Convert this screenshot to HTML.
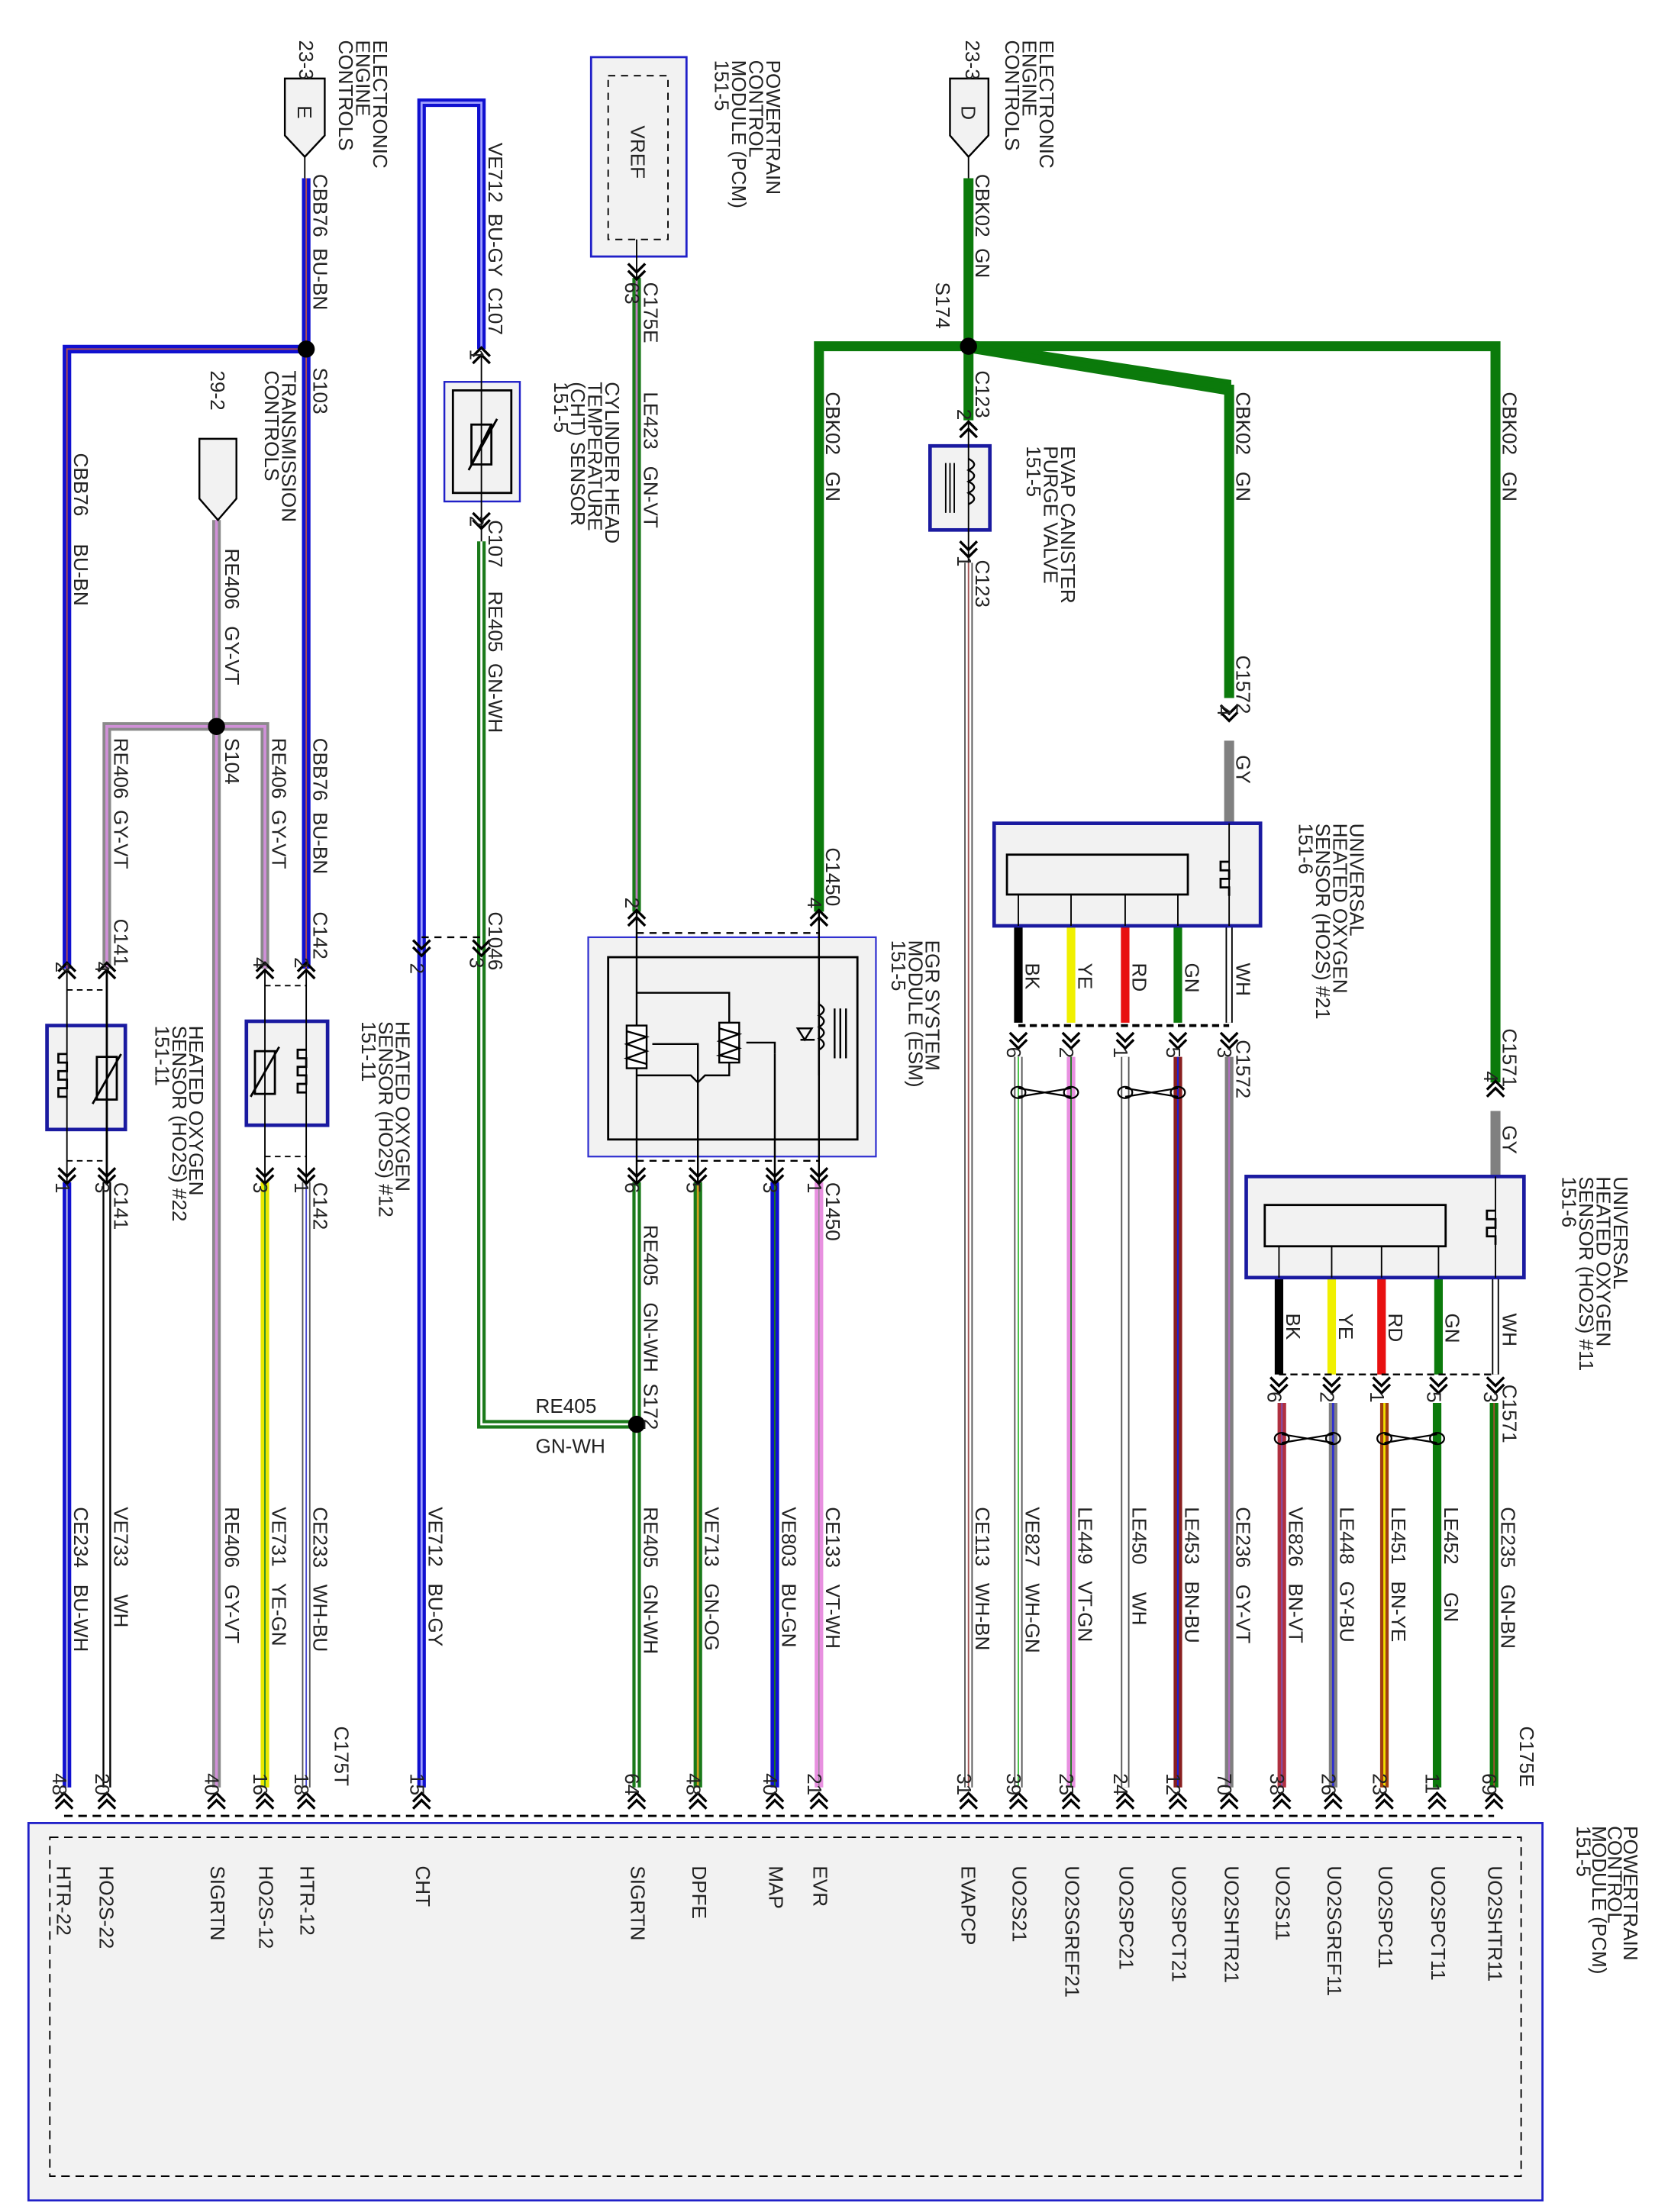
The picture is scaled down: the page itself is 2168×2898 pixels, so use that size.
<!DOCTYPE html>
<html><head><meta charset="utf-8"><style>
html,body{margin:0;padding:0;background:#fff}
svg{display:block}
text{font-family:"Liberation Sans",sans-serif;font-size:14px;fill:#222}
</style></head><body>
<svg width="2168" height="2898" viewBox="0 0 1162 1553" xmlns="http://www.w3.org/2000/svg">
<defs>
<g id="cd"><path d="M-6,-5 L0,1 L6,-5 M-6,0 L0,6 L6,0" fill="none" stroke="#000" stroke-width="1.8"/></g>
<g id="cu"><path d="M-6,5 L0,-1 L6,5 M-6,0 L0,-6 L6,0" fill="none" stroke="#000" stroke-width="1.8"/></g>
</defs>
<rect width="1162" height="1553" fill="#fff"/>

<rect x="20" y="1280" width="1063" height="265" fill="#f2f2f2" stroke="#2020c8" stroke-width="1.5"/>
<rect x="35" y="1290" width="1033" height="238" fill="none" stroke="#000" stroke-dasharray="6,4"/>
<line x1="45" y1="1275" x2="1049" y2="1275" stroke="#000" stroke-dasharray="6,4" stroke-width="1.5"/>
<g transform="translate(1140,1282) rotate(90)"><text>POWERTRAIN</text><text y="11">CONTROL</text><text y="22">MODULE (PCM)</text><text y="33">151-5</text></g>

<g fill="none" stroke-linejoin="miter">
<path d="M47,680 V245 H215 M215,125 V680" stroke="#1010d0" stroke-width="6"/>
<path d="M47,680 V245 H215 M215,125 V680" stroke="#b05050" stroke-width="1"/>
<path d="M75,680 V510 H186 V680 M152,365 V1255" stroke="#8a8a8a" stroke-width="6"/>
<path d="M75,680 V510 H186 V680 M152,365 V1255" stroke="#d090d8" stroke-width="2"/>
<line x1="47" y1="830" x2="47" y2="1255" stroke="#1010d0" stroke-width="6"/>
<line x1="47" y1="830" x2="47" y2="1255" stroke="#ccd" stroke-width="1"/>
<line x1="75" y1="830" x2="75" y2="1255" stroke="#000" stroke-width="6"/>
<line x1="75" y1="830" x2="75" y2="1255" stroke="#fff" stroke-width="3.5"/>
<line x1="186" y1="830" x2="186" y2="1255" stroke="#e8e800" stroke-width="6"/>
<line x1="186" y1="830" x2="186" y2="1255" stroke="#2a8a2a" stroke-width="1"/>
<line x1="215" y1="830" x2="215" y2="1255" stroke="#555" stroke-width="6"/>
<line x1="215" y1="830" x2="215" y2="1255" stroke="#fff" stroke-width="4"/>
<line x1="215" y1="830" x2="215" y2="1255" stroke="#4a4ad0" stroke-width="1"/>
<path d="M296,1255 V72 H338 V245" stroke="#1010d0" stroke-width="6"/>
<path d="M296,1255 V72 H338 V245" stroke="#a0a0ff" stroke-width="1.5"/>
<path d="M338,380 V1000 H447" stroke="#1a7a1a" stroke-width="6"/>
<path d="M338,380 V1000 H447" stroke="#fff" stroke-width="1.5"/>
<line x1="447" y1="195" x2="447" y2="640" stroke="#1a7a1a" stroke-width="6"/>
<line x1="447" y1="195" x2="447" y2="640" stroke="#c080c0" stroke-width="1.5"/>
<path d="M575,640 V243 H1050 V760" stroke="#0b7a0b" stroke-width="7"/>
<line x1="680" y1="125" x2="680" y2="295" stroke="#0b7a0b" stroke-width="7"/>
<polygon points="680,240 863,268 863,276 680,246" fill="#0b7a0b" stroke="#0b7a0b" stroke-width="3"/>
<line x1="863" y1="270" x2="863" y2="490" stroke="#0b7a0b" stroke-width="7"/>
<line x1="863" y1="520" x2="863" y2="578" stroke="#808080" stroke-width="7"/>
<line x1="1050" y1="780" x2="1050" y2="826" stroke="#808080" stroke-width="7"/>
<line x1="447" y1="830" x2="447" y2="1255" stroke="#1a7a1a" stroke-width="6"/>
<line x1="447" y1="830" x2="447" y2="1255" stroke="#fff" stroke-width="1.5"/>
<line x1="490" y1="830" x2="490" y2="1255" stroke="#1a7a1a" stroke-width="6"/>
<line x1="490" y1="830" x2="490" y2="1255" stroke="#d0a020" stroke-width="1.5"/>
<line x1="544" y1="830" x2="544" y2="1255" stroke="#1010d0" stroke-width="6"/>
<line x1="544" y1="830" x2="544" y2="1255" stroke="#1a7a1a" stroke-width="1"/>
<line x1="575" y1="830" x2="575" y2="1255" stroke="#e890e0" stroke-width="6"/>
<line x1="575" y1="830" x2="575" y2="1255" stroke="#888" stroke-width="0.7"/>
<line x1="680" y1="395" x2="680" y2="1255" stroke="#555" stroke-width="6"/>
<line x1="680" y1="395" x2="680" y2="1255" stroke="#fff" stroke-width="4"/>
<line x1="680" y1="395" x2="680" y2="1255" stroke="#a05050" stroke-width="1"/>
<line x1="715" y1="650" x2="715" y2="718" stroke="#000" stroke-width="6"/>
<line x1="752" y1="650" x2="752" y2="718" stroke="#f0f000" stroke-width="6"/>
<line x1="790" y1="650" x2="790" y2="718" stroke="#e81010" stroke-width="6"/>
<line x1="827" y1="650" x2="827" y2="718" stroke="#0b7a0b" stroke-width="6"/>
<line x1="863" y1="650" x2="863" y2="718" stroke="#000" stroke-width="5"/>
<line x1="863" y1="650" x2="863" y2="718" stroke="#fff" stroke-width="3"/>
<line x1="715" y1="742" x2="715" y2="1255" stroke="#555" stroke-width="6"/>
<line x1="715" y1="742" x2="715" y2="1255" stroke="#fff" stroke-width="4"/>
<line x1="715" y1="742" x2="715" y2="1255" stroke="#40c040" stroke-width="1"/>
<line x1="752" y1="742" x2="752" y2="1255" stroke="#e890e0" stroke-width="6"/>
<line x1="752" y1="742" x2="752" y2="1255" stroke="#1a7a1a" stroke-width="1"/>
<line x1="790" y1="742" x2="790" y2="1255" stroke="#555" stroke-width="6"/>
<line x1="790" y1="742" x2="790" y2="1255" stroke="#fff" stroke-width="4"/>
<line x1="827" y1="742" x2="827" y2="1255" stroke="#8a2020" stroke-width="6"/>
<line x1="827" y1="742" x2="827" y2="1255" stroke="#2020d0" stroke-width="1.2"/>
<line x1="863" y1="742" x2="863" y2="1255" stroke="#808080" stroke-width="6"/>
<line x1="863" y1="742" x2="863" y2="1255" stroke="#b070c0" stroke-width="1.2"/>
<line x1="898" y1="897" x2="898" y2="965" stroke="#000" stroke-width="6"/>
<line x1="935" y1="897" x2="935" y2="965" stroke="#f0f000" stroke-width="6"/>
<line x1="970" y1="897" x2="970" y2="965" stroke="#e81010" stroke-width="6"/>
<line x1="1010" y1="897" x2="1010" y2="965" stroke="#0b7a0b" stroke-width="6"/>
<line x1="1050" y1="897" x2="1050" y2="965" stroke="#000" stroke-width="5"/>
<line x1="1050" y1="897" x2="1050" y2="965" stroke="#fff" stroke-width="3"/>
<line x1="900" y1="985" x2="900" y2="1255" stroke="#b03040" stroke-width="6"/>
<line x1="900" y1="985" x2="900" y2="1255" stroke="#8050b0" stroke-width="1"/>
<line x1="936" y1="985" x2="936" y2="1255" stroke="#808080" stroke-width="6"/>
<line x1="936" y1="985" x2="936" y2="1255" stroke="#3030d0" stroke-width="1.5"/>
<line x1="972" y1="985" x2="972" y2="1255" stroke="#a04010" stroke-width="6"/>
<line x1="972" y1="985" x2="972" y2="1255" stroke="#f0e000" stroke-width="1.5"/>
<line x1="1009" y1="985" x2="1009" y2="1255" stroke="#0b7a0b" stroke-width="6"/>
<line x1="1049" y1="985" x2="1049" y2="1255" stroke="#0b7a0b" stroke-width="6"/>
<line x1="1049" y1="985" x2="1049" y2="1255" stroke="#a05030" stroke-width="1"/>
</g>

<g fill="none" stroke="#000" stroke-width="1.2">
<ellipse cx="715" cy="767" rx="5" ry="4"/><ellipse cx="752" cy="767" rx="5" ry="4"/><path d="M715,764 L752,770 M715,770 L752,764"/>
<ellipse cx="790" cy="767" rx="5" ry="4"/><ellipse cx="827" cy="767" rx="5" ry="4"/><path d="M790,764 L827,770 M790,770 L827,764"/>
<ellipse cx="900" cy="1010" rx="5" ry="4"/><ellipse cx="936" cy="1010" rx="5" ry="4"/><path d="M900,1007 L936,1013 M900,1013 L936,1007"/>
<ellipse cx="972" cy="1010" rx="5" ry="4"/><ellipse cx="1009" cy="1010" rx="5" ry="4"/><path d="M972,1007 L1009,1013 M972,1013 L1009,1007"/>
</g>

<path d="M200,55 H228 V95 L214,110 L200,95 Z" fill="#f2f2f2" stroke="#000" stroke-width="1.3"/>
<line x1="214" y1="110" x2="214" y2="125" stroke="#000"/>
<text transform="translate(209,74) rotate(90)" font-size="14">E</text>
<path d="M667,55 H694 V95 L680,110 L667,95 Z" fill="#f2f2f2" stroke="#000" stroke-width="1.3"/>
<line x1="680" y1="110" x2="680" y2="125" stroke="#000"/>
<text transform="translate(675,74) rotate(90)" font-size="14">D</text>
<path d="M140,308 H166 V350 L153,365 L140,350 Z" fill="#f2f2f2" stroke="#000" stroke-width="1.3"/>

<g fill="#000"><circle cx="215" cy="245" r="6"/><circle cx="152" cy="510" r="6"/><circle cx="680" cy="243" r="6"/><circle cx="447" cy="1000" r="6"/></g>

<rect x="415" y="40" width="67" height="140" fill="#f2f2f2" stroke="#2020c8" stroke-width="1.5"/>
<rect x="427" y="53" width="42" height="115" fill="none" stroke="#000" stroke-dasharray="5,4"/>
<line x1="447" y1="168" x2="447" y2="195" stroke="#000"/>
<text transform="translate(443,88) rotate(90)">VREF</text>

<rect x="312" y="268" width="53" height="84" fill="#f2f2f2" stroke="#2020c8" stroke-width="1.3"/>
<rect x="318" y="274" width="41" height="72" fill="none" stroke="#000" stroke-width="1.5"/>
<line x1="338" y1="248" x2="338" y2="380" stroke="#000"/>
<rect x="331" y="298" width="14" height="28" fill="none" stroke="#000" stroke-width="1.5"/><path d="M331,326 L345,298 M329,330 L349,294" stroke="#000" stroke-width="1.5"/>

<rect x="653" y="313" width="42" height="59" fill="#f2f2f2" stroke="#1a1aa0" stroke-width="2.5"/>
<line x1="680" y1="295" x2="680" y2="395" stroke="#000"/>
<path d="M680,322 q8,4 0,8 q8,4 0,8 q8,4 0,8 q8,4 0,8" fill="none" stroke="#000" stroke-width="1.3"/>
<path d="M664,325 V360 M667,325 V360 M670,325 V360" stroke="#000"/>

<rect x="33" y="720" width="55" height="73" fill="#f2f2f2" stroke="#1a1aa0" stroke-width="2.5"/>
<line x1="47" y1="680" x2="47" y2="830" stroke="#000"/><line x1="75" y1="680" x2="75" y2="830" stroke="#000" stroke-width="1.5"/>
<path d="M47,740 h-6 v6 h6 v6 h-6 v6 h6 v6 h-6 v6 h6" fill="none" stroke="#000" stroke-width="1.5"/>
<rect x="68" y="742" width="14" height="30" fill="none" stroke="#000" stroke-width="1.5"/><path d="M65,775 L85,740" stroke="#000" stroke-width="1.5"/>
<rect x="173" y="717" width="57" height="73" fill="#f2f2f2" stroke="#1a1aa0" stroke-width="2.5"/>
<line x1="186" y1="680" x2="186" y2="830" stroke="#000"/><line x1="215" y1="680" x2="215" y2="830" stroke="#000"/>
<path d="M215,737 h-6 v6 h6 v6 h-6 v6 h6 v6 h-6 v6 h6" fill="none" stroke="#000" stroke-width="1.5"/>
<rect x="179" y="738" width="14" height="30" fill="none" stroke="#000" stroke-width="1.5"/><path d="M176,770 L196,735" stroke="#000" stroke-width="1.5"/>
<g stroke="#000" stroke-dasharray="4,3"><line x1="47" y1="695" x2="75" y2="695"/><line x1="47" y1="815" x2="75" y2="815"/><line x1="186" y1="692" x2="215" y2="692"/><line x1="186" y1="812" x2="215" y2="812"/></g>

<rect x="413" y="658" width="202" height="154" fill="#f2f2f2" stroke="#3030d0" stroke-width="1.2"/>
<rect x="427" y="672" width="175" height="128" fill="none" stroke="#000" stroke-width="1.5"/>
<g stroke="#000" fill="none" stroke-width="1.3">
<line x1="447" y1="640" x2="447" y2="830"/><line x1="575" y1="640" x2="575" y2="830"/>
<line x1="490" y1="750" x2="490" y2="830"/><line x1="544" y1="740" x2="544" y2="830"/>
<path d="M447,697 H512 V718"/><path d="M447,755 H485 L490,760 L495,755 H512 V740"/>
<rect x="440" y="720" width="14" height="30" fill="#fff"/><rect x="505" y="718" width="14" height="28" fill="#fff"/>
<path d="M440,724 L454,728 L440,733 L454,738 L440,743 L454,747"/><path d="M505,722 L519,726 L505,731 L519,736 L505,741 L519,744"/>
<path d="M458,733 H490 V750 M524,732 H544 V740"/>
<path d="M575,703 V755 M562,730 H572 M565,730 L570,722 L560,722 Z M575,705 q7,4 0,8 q7,4 0,8 q7,4 0,8 q7,4 0,8"/>
<path d="M586,708 V743 M590,708 V743 M594,708 V743"/>
</g>
<line x1="447" y1="655" x2="575" y2="655" stroke="#000" stroke-dasharray="5,4" stroke-width="1.3"/>
<line x1="447" y1="815" x2="575" y2="815" stroke="#000" stroke-dasharray="5,4" stroke-width="1.3"/>
<line x1="296" y1="658" x2="338" y2="658" stroke="#000" stroke-dasharray="5,4" stroke-width="1.3"/>

<rect x="698" y="578" width="187" height="72" fill="#f2f2f2" stroke="#1a1aa0" stroke-width="2.5"/>
<rect x="707" y="600" width="127" height="28" fill="#f2f2f2" stroke="#000" stroke-width="1.5"/>
<g stroke="#000"><line x1="715" y1="628" x2="715" y2="650"/><line x1="752" y1="628" x2="752" y2="650"/><line x1="790" y1="628" x2="790" y2="650"/><line x1="827" y1="628" x2="827" y2="650"/><line x1="863" y1="578" x2="863" y2="650"/></g>
<path d="M863,605 h-6 v6 h6 v6 h-6 v6 h6 v6" fill="none" stroke="#000" stroke-width="1.5"/>
<line x1="715" y1="720" x2="863" y2="720" stroke="#000" stroke-dasharray="5,3" stroke-width="2"/>
<rect x="875" y="826" width="195" height="71" fill="#f2f2f2" stroke="#1a1aa0" stroke-width="2.5"/>
<rect x="888" y="846" width="127" height="29" fill="#f2f2f2" stroke="#000" stroke-width="1.5"/>
<g stroke="#000"><line x1="898" y1="875" x2="898" y2="897"/><line x1="935" y1="875" x2="935" y2="897"/><line x1="970" y1="875" x2="970" y2="897"/><line x1="1010" y1="875" x2="1010" y2="897"/><line x1="1050" y1="826" x2="1050" y2="897"/></g>
<path d="M1050,850 h-6 v6 h6 v6 h-6 v6 h6 v6" fill="none" stroke="#000" stroke-width="1.5"/>
<line x1="898" y1="965" x2="1050" y2="965" stroke="#000" stroke-dasharray="5,3" stroke-width="1.3"/>

<use href="#cd" x="447" y="190"/>
<use href="#cu" x="338" y="250"/><use href="#cd" x="338" y="365"/>
<use href="#cu" x="680" y="302"/><use href="#cd" x="680" y="385"/>
<use href="#cd" x="296" y="665"/><use href="#cd" x="338" y="665"/>
<use href="#cu" x="447" y="645"/><use href="#cu" x="575" y="645"/>
<use href="#cd" x="447" y="825"/><use href="#cd" x="490" y="825"/><use href="#cd" x="544" y="825"/><use href="#cd" x="575" y="825"/>
<use href="#cu" x="47" y="682"/><use href="#cu" x="75" y="682"/><use href="#cd" x="47" y="825"/><use href="#cd" x="75" y="825"/>
<use href="#cu" x="186" y="682"/><use href="#cu" x="215" y="682"/><use href="#cd" x="186" y="825"/><use href="#cd" x="215" y="825"/>
<use href="#cd" x="863" y="500"/><use href="#cu" x="1050" y="765"/>
<use href="#cd" x="715" y="730"/><use href="#cd" x="752" y="730"/><use href="#cd" x="790" y="730"/><use href="#cd" x="827" y="730"/><use href="#cd" x="863" y="730"/>
<use href="#cd" x="898" y="972"/><use href="#cd" x="935" y="972"/><use href="#cd" x="970" y="972"/><use href="#cd" x="1010" y="972"/><use href="#cd" x="1050" y="972"/>
<g><use href="#cu" x="45" y="1265"/><use href="#cu" x="75" y="1265"/><use href="#cu" x="152" y="1265"/><use href="#cu" x="186" y="1265"/><use href="#cu" x="215" y="1265"/><use href="#cu" x="296" y="1265"/><use href="#cu" x="447" y="1265"/><use href="#cu" x="490" y="1265"/><use href="#cu" x="544" y="1265"/><use href="#cu" x="575" y="1265"/><use href="#cu" x="680" y="1265"/><use href="#cu" x="715" y="1265"/><use href="#cu" x="752" y="1265"/><use href="#cu" x="790" y="1265"/><use href="#cu" x="827" y="1265"/><use href="#cu" x="863" y="1265"/><use href="#cu" x="900" y="1265"/><use href="#cu" x="936" y="1265"/><use href="#cu" x="972" y="1265"/><use href="#cu" x="1009" y="1265"/><use href="#cu" x="1049" y="1265"/></g>

<g>
<g transform="translate(262,28) rotate(90)"><text>ELECTRONIC</text><text y="12">ENGINE</text><text y="24">CONTROLS</text><text y="52">23-3</text></g>
<g transform="translate(730,28) rotate(90)"><text>ELECTRONIC</text><text y="12">ENGINE</text><text y="24">CONTROLS</text><text y="52">23-3</text></g>
<g transform="translate(538,42) rotate(90)"><text>POWERTRAIN</text><text y="12">CONTROL</text><text y="24">MODULE (PCM)</text><text y="36">151-5</text></g>
<g transform="translate(198,260) rotate(90)"><text>TRANSMISSION</text><text y="12">CONTROLS</text><text y="50">29-2</text></g>
<g transform="translate(425,268) rotate(90)"><text>CYLINDER HEAD</text><text y="12">TEMPERATURE</text><text y="24">(CHT) SENSOR</text><text y="36">151-5</text></g>
<g transform="translate(745,313) rotate(90)"><text>EVAP CANISTER</text><text y="12">PURGE VALVE</text><text y="24">151-5</text></g>
<g transform="translate(650,660) rotate(90)"><text>EGR SYSTEM</text><text y="12">MODULE (ESM)</text><text y="24">151-5</text></g>
<g transform="translate(948,578) rotate(90)"><text>UNIVERSAL</text><text y="12">HEATED OXYGEN</text><text y="24">SENSOR (HO2S) #21</text><text y="36">151-6</text></g>
<g transform="translate(1133,826) rotate(90)"><text>UNIVERSAL</text><text y="12">HEATED OXYGEN</text><text y="24">SENSOR (HO2S) #11</text><text y="36">151-6</text></g>
<g transform="translate(133,720) rotate(90)"><text>HEATED OXYGEN</text><text y="12">SENSOR (HO2S) #22</text><text y="24">151-11</text></g>
<g transform="translate(278,717) rotate(90)"><text>HEATED OXYGEN</text><text y="12">SENSOR (HO2S) #12</text><text y="24">151-11</text></g>

<text transform="translate(220,122) rotate(90)">CBB76 &#160;BU-BN</text>
<text transform="translate(220,258) rotate(90)">S103</text>
<text transform="translate(52,318) rotate(90)">CBB76 &#160; &#160; BU-BN</text>
<text transform="translate(158,385) rotate(90)">RE406 &#160; GY-VT</text>
<text transform="translate(220,518) rotate(90)">CBB76 &#160;BU-BN</text>
<text transform="translate(191,518) rotate(90)">RE406 &#160;GY-VT</text>
<text transform="translate(80,518) rotate(90)">RE406 &#160;GY-VT</text>
<text transform="translate(158,518) rotate(90)">S104</text>
<text transform="translate(343,100) rotate(90)">VE712 &#160;BU-GY &#160;C107</text>
<text transform="translate(343,365) rotate(90)">C107</text>
<text transform="translate(343,415) rotate(90)">RE405 &#160;GN-WH</text>
<text transform="translate(343,640) rotate(90)">C1046</text>
<text transform="translate(452,198) rotate(90)">C175E</text>
<text transform="translate(452,275) rotate(90)">LE423 &#160; GN-VT</text>
<text transform="translate(580,275) rotate(90)">CBK02 &#160; GN</text>
<text transform="translate(580,595) rotate(90)">C1450</text>
<text transform="translate(580,830) rotate(90)">C1450</text>
<text transform="translate(685,122) rotate(90)">CBK02 &#160;GN</text>
<text transform="translate(657,198) rotate(90)">S174</text>
<text transform="translate(685,260) rotate(90)">C123</text>
<text transform="translate(685,393) rotate(90)">C123</text>
<text transform="translate(868,275) rotate(90)">CBK02 &#160; GN</text>
<text transform="translate(868,460) rotate(90)">C1572</text>
<text transform="translate(868,530) rotate(90)">GY</text>
<text transform="translate(868,730) rotate(90)">C1572</text>
<text transform="translate(1055,275) rotate(90)">CBK02 &#160; GN</text>
<text transform="translate(1055,722) rotate(90)">C1571</text>
<text transform="translate(1055,790) rotate(90)">GY</text>
<text transform="translate(1055,972) rotate(90)">C1571</text>
<text transform="translate(80,645) rotate(90)">C141</text>
<text transform="translate(80,830) rotate(90)">C141</text>
<text transform="translate(220,640) rotate(90)">C142</text>
<text transform="translate(220,830) rotate(90)">C142</text>
<text transform="translate(452,860) rotate(90)">RE405 &#160; GN-WH &#160;S172</text>
<text x="376" y="992">RE405</text><text x="376" y="1020">GN-WH</text>
<g>
<text transform="translate(720,676) rotate(90)">BK</text><text transform="translate(757,676) rotate(90)">YE</text><text transform="translate(795,676) rotate(90)">RD</text><text transform="translate(832,676) rotate(90)">GN</text><text transform="translate(868,676) rotate(90)">WH</text>
<text transform="translate(903,922) rotate(90)">BK</text><text transform="translate(940,922) rotate(90)">YE</text><text transform="translate(975,922) rotate(90)">RD</text><text transform="translate(1015,922) rotate(90)">GN</text><text transform="translate(1055,922) rotate(90)">WH</text>
</g>
<g>
<text transform="translate(52,1058) rotate(90)">CE234 &#160; BU-WH</text>
<text transform="translate(80,1058) rotate(90)">VE733 &#160; &#160; WH</text>
<text transform="translate(158,1058) rotate(90)">RE406 &#160; GY-VT</text>
<text transform="translate(191,1058) rotate(90)">VE731 &#160; YE-GN</text>
<text transform="translate(220,1058) rotate(90)">CE233 &#160; WH-BU</text>
<text transform="translate(235,1212) rotate(90)">C175T</text>
<text transform="translate(301,1058) rotate(90)">VE712 &#160; BU-GY</text>
<text transform="translate(452,1058) rotate(90)">RE405 &#160; GN-WH</text>
<text transform="translate(495,1058) rotate(90)">VE713 &#160; GN-OG</text>
<text transform="translate(549,1058) rotate(90)">VE803 &#160; BU-GN</text>
<text transform="translate(580,1058) rotate(90)">CE133 &#160; VT-WH</text>
<text transform="translate(685,1058) rotate(90)">CE113 &#160; WH-BN</text>
<text transform="translate(720,1058) rotate(90)">VE827 &#160; WH-GN</text>
<text transform="translate(757,1058) rotate(90)">LE449 &#160; VT-GN</text>
<text transform="translate(795,1058) rotate(90)">LE450 &#160; &#160; WH</text>
<text transform="translate(832,1058) rotate(90)">LE453 &#160; BN-BU</text>
<text transform="translate(868,1058) rotate(90)">CE236 &#160; GY-VT</text>
<text transform="translate(905,1058) rotate(90)">VE826 &#160; BN-VT</text>
<text transform="translate(941,1058) rotate(90)">LE448 &#160; GY-BU</text>
<text transform="translate(977,1058) rotate(90)">LE451 &#160; BN-YE</text>
<text transform="translate(1014,1058) rotate(90)">LE452 &#160; &#160; GN</text>
<text transform="translate(1054,1058) rotate(90)">CE235 &#160; GN-BN</text>
<text transform="translate(1067,1212) rotate(90)">C175E</text>
</g>
<g font-size="12">
<text transform="translate(439,198) rotate(90)">63</text>
<text transform="translate(330,245) rotate(90)">1</text><text transform="translate(330,362) rotate(90)">2</text>
<text transform="translate(672,287) rotate(90)">2</text><text transform="translate(672,390) rotate(90)">1</text>
<text transform="translate(288,676) rotate(90)">2</text><text transform="translate(330,672) rotate(90)">3</text>
<text transform="translate(439,630) rotate(90)">2</text><text transform="translate(567,630) rotate(90)">4</text>
<text transform="translate(439,830) rotate(90)">6</text><text transform="translate(482,830) rotate(90)">5</text><text transform="translate(536,830) rotate(90)">3</text><text transform="translate(567,830) rotate(90)">1</text>
<text transform="translate(39,675) rotate(90)">2</text><text transform="translate(67,675) rotate(90)">4</text><text transform="translate(39,830) rotate(90)">1</text><text transform="translate(67,830) rotate(90)">3</text>
<text transform="translate(178,672) rotate(90)">4</text><text transform="translate(207,672) rotate(90)">2</text><text transform="translate(178,830) rotate(90)">3</text><text transform="translate(207,830) rotate(90)">1</text>
<text transform="translate(855,495) rotate(90)">4</text><text transform="translate(1042,752) rotate(90)">4</text>
<text transform="translate(707,735) rotate(90)">6</text><text transform="translate(744,735) rotate(90)">2</text><text transform="translate(782,735) rotate(90)">1</text><text transform="translate(819,735) rotate(90)">5</text><text transform="translate(855,735) rotate(90)">3</text>
<text transform="translate(890,977) rotate(90)">6</text><text transform="translate(927,977) rotate(90)">2</text><text transform="translate(962,977) rotate(90)">1</text><text transform="translate(1002,977) rotate(90)">5</text><text transform="translate(1042,977) rotate(90)">3</text>
<text transform="translate(37,1245) rotate(90)">48</text><text transform="translate(67,1245) rotate(90)">20</text><text transform="translate(144,1245) rotate(90)">40</text><text transform="translate(178,1245) rotate(90)">16</text><text transform="translate(207,1245) rotate(90)">18</text><text transform="translate(288,1245) rotate(90)">15</text><text transform="translate(439,1245) rotate(90)">64</text><text transform="translate(482,1245) rotate(90)">48</text><text transform="translate(536,1245) rotate(90)">40</text><text transform="translate(567,1245) rotate(90)">21</text><text transform="translate(672,1245) rotate(90)">31</text><text transform="translate(707,1245) rotate(90)">39</text><text transform="translate(744,1245) rotate(90)">25</text><text transform="translate(782,1245) rotate(90)">24</text><text transform="translate(819,1245) rotate(90)">12</text><text transform="translate(855,1245) rotate(90)">70</text><text transform="translate(892,1245) rotate(90)">38</text><text transform="translate(928,1245) rotate(90)">26</text><text transform="translate(964,1245) rotate(90)">23</text><text transform="translate(1001,1245) rotate(90)">11</text><text transform="translate(1041,1245) rotate(90)">69</text>
</g>
<g>
<text transform="translate(40,1310) rotate(90)">HTR-22</text><text transform="translate(70,1310) rotate(90)">HO2S-22</text><text transform="translate(148,1310) rotate(90)">SIGRTN</text><text transform="translate(182,1310) rotate(90)">HO2S-12</text><text transform="translate(211,1310) rotate(90)">HTR-12</text><text transform="translate(292,1310) rotate(90)">CHT</text><text transform="translate(443,1310) rotate(90)">SIGRTN</text><text transform="translate(486,1310) rotate(90)">DPFE</text><text transform="translate(540,1310) rotate(90)">MAP</text><text transform="translate(571,1310) rotate(90)">EVR</text><text transform="translate(675,1310) rotate(90)">EVAPCP</text><text transform="translate(711,1310) rotate(90)">UO2S21</text><text transform="translate(748,1310) rotate(90)">UO2SGREF21</text><text transform="translate(786,1310) rotate(90)">UO2SPC21</text><text transform="translate(823,1310) rotate(90)">UO2SPCT21</text><text transform="translate(860,1310) rotate(90)">UO2SHTR21</text><text transform="translate(896,1310) rotate(90)">UO2S11</text><text transform="translate(932,1310) rotate(90)">UO2SGREF11</text><text transform="translate(968,1310) rotate(90)">UO2SPC11</text><text transform="translate(1005,1310) rotate(90)">UO2SPCT11</text><text transform="translate(1045,1310) rotate(90)">UO2SHTR11</text>
</g>
</g>
</svg>
</body></html>
